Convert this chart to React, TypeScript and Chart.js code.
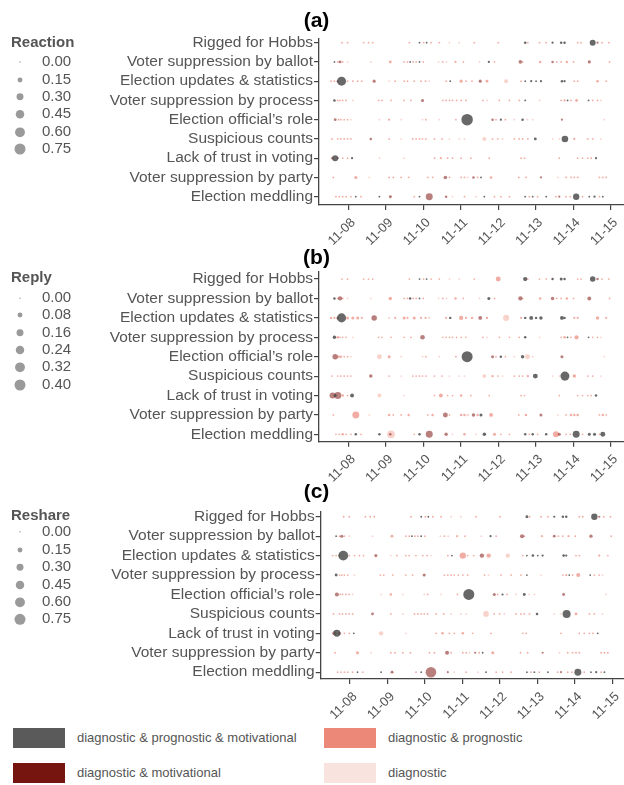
import React, { useEffect, useRef } from "react";
import { Chart, registerables } from "chart.js";
Chart.register(...registerables);

const FONT = '"Liberation Sans", Arial, Helvetica, sans-serif';
Chart.defaults.font.family = FONT;

const categories = [
  "Rigged for Hobbs",
  "Voter suppression by ballot",
  "Election updates & statistics",
  "Voter suppression by process",
  "Election official’s role",
  "Suspicious counts",
  "Lack of trust in voting",
  "Voter suppression by party",
  "Election meddling",
];
const dayTicks = [8, 9, 10, 11, 12, 13, 14, 15];
const tickLabels = ["11-08", "11-09", "11-10", "11-11", "11-12", "11-13", "11-14", "11-15"];

// type codes: g = diag&prog&motiv, r = diag&motiv, s = diag&prog, p = diag
const typeCodes = ["g", "r", "s", "p"];
const typeNames = [
  "diagnostic & prognostic & motivational",
  "diagnostic & motivational",
  "diagnostic & prognostic",
  "diagnostic",
];
const typeFills = ["rgba(78,78,78,0.85)", "rgba(125,22,18,0.55)", "rgba(232,118,102,0.6)", "rgba(245,196,186,0.75)"];
const typeSwatches = ["#5a5a5a", "#761410", "#ec8878", "#f9e3df"];

const reactionLegend = [0, 0.15, 0.3, 0.45, 0.6, 0.75];
const replyLegend = [0, 0.08, 0.16, 0.24, 0.32, 0.4];
const reshareLegend = [0, 0.15, 0.3, 0.45, 0.6, 0.75];

// Row: Rigged for Hobbs
const rigDays = [7.83, 7.98, 8.41, 8.54, 8.65, 9.63, 9.9, 10.01, 10.09, 10.21, 10.43, 10.7, 10.96, 11.36, 12.0, 12.72, 12.79, 13.1, 13.28, 13.45, 13.68, 13.77, 14.12, 14.21, 14.52, 14.65, 14.77, 14.95];
const rigTypes = "ssssssgsgssppssgsssgggssgrss";
const rigReaction = [0.02,0.02,0.02,0.02,0.02,0.02,0.02,0.02,0.02,0.02,0.02,0.02,0.02,0.02,0.02,0.04,0.02,0.02,0.02,0.03,0.04,0.04,0.02,0.02,0.22,0.03,0.02,0.02];
const rigReply = [0.01,0.01,0.01,0.01,0.01,0.01,0.01,0.01,0.01,0.01,0.01,0.01,0.01,0.01,0.08,0.06,0.01,0.01,0.01,0.02,0.03,0.02,0.01,0.01,0.1,0.02,0.01,0.01];
const rigReshare = [0.02,0.02,0.02,0.02,0.02,0.02,0.02,0.02,0.02,0.02,0.02,0.02,0.02,0.02,0.02,0.05,0.02,0.02,0.02,0.03,0.04,0.04,0.02,0.02,0.25,0.03,0.02,0.02];

// Row: Voter suppression by ballot
const balDays = [7.63, 7.72, 7.78, 7.85, 7.98, 8.6, 9.12, 9.49, 9.58, 9.65, 9.73, 9.81, 9.9, 10.0, 10.41, 10.52, 10.62, 10.86, 11.07, 11.5, 11.75, 11.9, 12.59, 12.65, 13.12, 13.45, 13.56, 13.68, 13.83, 14.01, 14.43, 14.97];
const balTypes = "gsrsppsssgssgspspsspgsrssrssssrs";
const balReaction = [0.02,0.02,0.05,0.02,0.02,0.02,0.05,0.02,0.02,0.02,0.02,0.02,0.02,0.02,0.02,0.02,0.02,0.03,0.02,0.02,0.03,0.02,0.08,0.02,0.04,0.04,0.02,0.02,0.04,0.02,0.06,0.02];
const balReply = [0.02,0.01,0.06,0.01,0.01,0.01,0.04,0.01,0.01,0.02,0.01,0.01,0.01,0.01,0.01,0.01,0.01,0.02,0.01,0.01,0.03,0.01,0.06,0.01,0.02,0.04,0.01,0.01,0.02,0.01,0.05,0.01];
const balReshare = [0.02,0.02,0.06,0.02,0.02,0.02,0.05,0.02,0.02,0.02,0.02,0.02,0.02,0.02,0.02,0.02,0.02,0.03,0.02,0.02,0.03,0.02,0.1,0.02,0.03,0.05,0.02,0.02,0.03,0.02,0.07,0.02];

// Row: Election updates & statistics
const updDays = [7.54, 7.63, 7.72, 7.82, 7.98, 8.12, 8.25, 8.36, 8.69, 9.09, 9.25, 9.49, 9.58, 9.76, 9.94, 10.06, 10.16, 10.61, 10.72, 11.01, 11.14, 11.3, 11.52, 11.7, 12.21, 12.61, 12.72, 12.88, 13.01, 13.14, 13.7, 13.77, 14.03, 14.12, 14.65, 14.88];
const updTypes = "ssrgssssrpsssssspsgsssrspsggggggssss";
const updReaction = [0.02,0.02,0.04,0.5,0.02,0.02,0.02,0.02,0.06,0.02,0.02,0.02,0.02,0.02,0.02,0.02,0.02,0.02,0.02,0.06,0.02,0.02,0.06,0.05,0.1,0.02,0.02,0.03,0.02,0.03,0.04,0.03,0.02,0.02,0.04,0.02];
const updReply = [0.02,0.015,0.03,0.27,0.03,0.03,0.03,0.015,0.1,0.015,0.015,0.03,0.015,0.03,0.015,0.015,0.015,0.015,0.02,0.06,0.015,0.02,0.05,0.02,0.12,0.015,0.02,0.05,0.02,0.04,0.05,0.02,0.015,0.015,0.04,0.015];
const updReshare = [0.02,0.02,0.03,0.6,0.02,0.02,0.02,0.02,0.06,0.02,0.02,0.02,0.02,0.02,0.02,0.02,0.02,0.02,0.02,0.25,0.02,0.02,0.12,0.12,0.12,0.02,0.02,0.04,0.02,0.03,0.04,0.03,0.02,0.02,0.03,0.02];

// Row: Voter suppression by process
const proDays = [7.63, 7.72, 7.78, 7.85, 7.94, 8.12, 8.81, 8.9, 9.14, 9.49, 9.67, 9.98, 10.52, 10.61, 10.7, 10.78, 10.89, 11.01, 11.14, 11.59, 11.7, 12.03, 12.3, 12.56, 12.72, 13.1, 13.68, 13.77, 13.85, 13.94, 14.09, 14.41, 14.52, 14.65, 14.74];
const proTypes = "gsssspsssssrsssssssspsssgpssgssgssp";
const proReaction = [0.04,0.02,0.02,0.02,0.02,0.02,0.02,0.02,0.02,0.02,0.02,0.06,0.02,0.02,0.02,0.02,0.02,0.02,0.02,0.02,0.02,0.02,0.02,0.02,0.02,0.02,0.02,0.03,0.02,0.02,0.05,0.02,0.02,0.02,0.02];
const proReply = [0.04,0.02,0.01,0.01,0.01,0.01,0.01,0.01,0.01,0.01,0.01,0.07,0.01,0.01,0.01,0.01,0.01,0.01,0.01,0.01,0.01,0.01,0.01,0.01,0.02,0.01,0.01,0.02,0.01,0.01,0.06,0.01,0.01,0.01,0.01];
const proReshare = [0.05,0.02,0.02,0.02,0.02,0.02,0.02,0.02,0.02,0.02,0.02,0.06,0.02,0.02,0.02,0.02,0.02,0.02,0.02,0.02,0.02,0.02,0.02,0.02,0.02,0.02,0.02,0.03,0.02,0.02,0.1,0.02,0.02,0.02,0.02];

// Row: Election official's role
const offDays = [7.65, 7.74, 7.8, 7.89, 7.98, 8.07, 8.83, 9.09, 9.41, 9.98, 10.07, 10.43, 10.87, 11.17, 11.85, 11.94, 12.07, 12.19, 12.43, 12.65, 12.78, 12.92, 13.7, 14.83];
const offTypes = "rssssppsppspsgrsgspgpprp";
const offReaction = [0.05,0.02,0.02,0.02,0.02,0.02,0.02,0.03,0.02,0.02,0.02,0.02,0.02,0.82,0.04,0.02,0.03,0.02,0.02,0.04,0.02,0.02,0.03,0.02];
const offReply = [0.1,0.02,0.02,0.01,0.01,0.01,0.08,0.03,0.01,0.01,0.01,0.01,0.01,0.4,0.03,0.01,0.02,0.01,0.01,0.04,0.08,0.01,0.03,0.01];
const offReshare = [0.1,0.02,0.02,0.02,0.02,0.02,0.02,0.04,0.02,0.02,0.02,0.02,0.02,0.75,0.06,0.02,0.03,0.02,0.02,0.05,0.02,0.02,0.05,0.02];

// Row: Suspicious counts
const susDays = [7.56, 7.72, 7.8, 7.89, 7.98, 8.07, 8.6, 9.09, 9.41, 9.72, 9.81, 9.9, 9.98, 10.07, 10.3, 10.5, 10.7, 10.96, 11.1, 11.63, 11.85, 11.99, 12.12, 12.43, 12.56, 12.65, 12.79, 12.99, 13.45, 13.63, 13.78, 14.03, 14.39, 14.52, 14.74];
const susTypes = "ssssssrspsssssssppppsspssssgppgsssp";
const susReaction = [0.02,0.02,0.02,0.02,0.02,0.02,0.04,0.02,0.02,0.02,0.02,0.02,0.02,0.02,0.02,0.02,0.02,0.02,0.02,0.1,0.02,0.02,0.02,0.02,0.02,0.02,0.02,0.05,0.02,0.02,0.27,0.03,0.02,0.02,0.02];
const susReply = [0.01,0.01,0.01,0.01,0.01,0.01,0.04,0.01,0.01,0.01,0.01,0.01,0.01,0.01,0.01,0.01,0.01,0.01,0.01,0.05,0.02,0.01,0.01,0.01,0.01,0.01,0.02,0.08,0.01,0.01,0.27,0.04,0.01,0.01,0.01];
const susReshare = [0.02,0.02,0.02,0.02,0.02,0.02,0.05,0.02,0.02,0.02,0.02,0.02,0.02,0.02,0.02,0.02,0.02,0.02,0.02,0.2,0.02,0.02,0.02,0.02,0.02,0.02,0.02,0.04,0.02,0.02,0.4,0.05,0.02,0.02,0.02];

// Row: Lack of trust in voting
const lacDays = [7.58, 7.65, 7.72, 7.85, 7.98, 8.1, 8.83, 9.49, 10.3, 10.47, 10.65, 10.78, 11.01, 11.27, 11.76, 12.61, 12.7, 13.63, 14.12, 14.25, 14.39, 14.48, 14.61];
const lacTypes = "rgrssgppssssssssssssssg";
const lacReaction = [0.05,0.22,0.03,0.02,0.02,0.03,0.02,0.02,0.02,0.03,0.02,0.02,0.02,0.02,0.02,0.02,0.02,0.02,0.02,0.02,0.02,0.02,0.03];
const lacReply = [0.12,0.03,0.16,0.02,0.01,0.05,0.05,0.01,0.01,0.05,0.01,0.01,0.02,0.01,0.01,0.01,0.01,0.01,0.01,0.01,0.01,0.01,0.02];
const lacReshare = [0.1,0.3,0.06,0.02,0.02,0.02,0.12,0.02,0.02,0.04,0.02,0.02,0.04,0.02,0.02,0.02,0.02,0.02,0.02,0.02,0.02,0.02,0.02];

// Row: Voter suppression by party
const parDays = [7.6, 8.2, 8.56, 9.09, 9.2, 9.41, 9.61, 10.12, 10.25, 10.59, 10.7, 11.01, 11.1, 11.19, 11.34, 11.45, 11.54, 11.81, 12.55, 12.74, 13.14, 13.59, 13.81, 13.94, 14.03, 14.12, 14.7, 14.79, 14.88];
const parTypes = "sspssssssrssspr" + "sgsssrp" + "sssssss";
const parReaction = [0.02,0.06,0.02,0.02,0.02,0.02,0.02,0.02,0.02,0.08,0.02,0.02,0.02,0.02,0.04,0.02,0.02,0.04,0.02,0.02,0.03,0.02,0.02,0.02,0.02,0.02,0.02,0.02,0.02];
const parReply = [0.01,0.16,0.01,0.02,0.01,0.01,0.02,0.01,0.02,0.08,0.01,0.02,0.02,0.02,0.04,0.02,0.03,0.05,0.01,0.02,0.03,0.01,0.01,0.02,0.02,0.02,0.01,0.02,0.01];
const parReshare = [0.02,0.06,0.02,0.02,0.02,0.02,0.02,0.02,0.02,0.1,0.02,0.02,0.02,0.02,0.03,0.02,0.02,0.06,0.02,0.02,0.03,0.02,0.02,0.02,0.02,0.02,0.02,0.02,0.02];

// Row: Election meddling
const medDays = [7.67, 7.76, 7.85, 7.94, 8.07, 8.2, 8.34, 8.83, 9.12, 9.14, 9.76, 9.9, 10.16, 10.61, 10.78, 11.1, 11.41, 11.63, 11.9, 12.07, 12.3, 12.72, 12.83, 12.92, 13.05, 13.28, 13.54, 13.63, 13.81, 13.92, 14.08, 14.25, 14.43, 14.57, 14.7, 14.79];
const medTypes = "sssssgsgrpsgrrpspgsssgsgsgsrssgsggsg";
const medReaction = [0.02,0.02,0.02,0.02,0.02,0.02,0.02,0.02,0.05,0.02,0.02,0.02,0.3,0.04,0.02,0.02,0.02,0.02,0.02,0.02,0.02,0.02,0.02,0.02,0.02,0.02,0.02,0.03,0.02,0.02,0.25,0.02,0.02,0.03,0.02,0.02];
const medReply = [0.01,0.01,0.02,0.01,0.01,0.02,0.01,0.02,0.02,0.2,0.01,0.02,0.16,0.04,0.01,0.02,0.01,0.04,0.03,0.01,0.01,0.02,0.01,0.02,0.01,0.02,0.12,0.03,0.01,0.01,0.16,0.01,0.03,0.03,0.01,0.08];
const medReshare = [0.02,0.02,0.02,0.02,0.02,0.02,0.02,0.02,0.05,0.02,0.02,0.02,0.7,0.03,0.02,0.02,0.02,0.02,0.02,0.02,0.02,0.02,0.02,0.02,0.02,0.02,0.02,0.03,0.02,0.02,0.3,0.02,0.02,0.03,0.02,0.02];

type Row = { days: number[]; types: string; a: number[]; b: number[]; c: number[] };
const rows: Row[] = [
  { days: rigDays, types: rigTypes, a: rigReaction, b: rigReply, c: rigReshare },
  { days: balDays, types: balTypes, a: balReaction, b: balReply, c: balReshare },
  { days: updDays, types: updTypes, a: updReaction, b: updReply, c: updReshare },
  { days: proDays, types: proTypes, a: proReaction, b: proReply, c: proReshare },
  { days: offDays, types: offTypes, a: offReaction, b: offReply, c: offReshare },
  { days: susDays, types: susTypes, a: susReaction, b: susReply, c: susReshare },
  { days: lacDays, types: lacTypes, a: lacReaction, b: lacReply, c: lacReshare },
  { days: parDays, types: parTypes, a: parReaction, b: parReply, c: parReshare },
  { days: medDays, types: medTypes, a: medReaction, b: medReply, c: medReshare },
];

function radiusFor(v: number, vmax: number) {
  return Math.max(0.8, 5.5 * Math.sqrt(v / vmax));
}

type PanelCfg = {
  key: "a" | "b" | "c";
  title: string;
  metric: string;
  legend: number[];
  vmax: number;
  canvasTop: number;
  height: number;
  top: number;
  bottom: number;
  left: number;
  right: number;
  xmin: number;
  xmax: number;
  ymin: number;
  ymax: number;
  titleY: number;
  legendTitleY: number;
  legendYs: number[];
};

const panels: PanelCfg[] = [
  { key: "a", title: "(a)", metric: "Reaction", legend: reactionLegend, vmax: 0.75, canvasTop: 0, height: 248, top: 39, bottom: 205, left: 319, right: 624, xmin: 7.218, xmax: 15.356, ymin: -0.43, ymax: 8.19, titleY: 21.5, legendTitleY: 42.7, legendYs: [62, 80, 96.7, 114.3, 132.3, 149] },
  { key: "b", title: "(b)", metric: "Reply", legend: replyLegend, vmax: 0.4, canvasTop: 248, height: 236, top: 271.7, bottom: 441.7, left: 319, right: 624, xmin: 7.218, xmax: 15.356, ymin: -0.38, ymax: 8.38, titleY: 258.5, legendTitleY: 278, legendYs: [298.3, 315, 332.7, 350, 367.3, 385] },
  { key: "c", title: "(c)", metric: "Reshare", legend: reshareLegend, vmax: 0.75, canvasTop: 484, height: 238, top: 511.7, bottom: 679, left: 320.7, right: 624, xmin: 7.218, xmax: 15.311, ymin: -0.35, ymax: 8.26, titleY: 492.5, legendTitleY: 516, legendYs: [531.7, 550, 567.3, 585, 602.3, 619.3] },
];

function Panel({ cfg }: { cfg: PanelCfg }) {
  const ref = useRef<HTMLCanvasElement | null>(null);
  useEffect(() => {
    const canvas = ref.current;
    if (!canvas) return;
    const datasets = typeCodes.map((code, ti) => {
      const data: { x: number; y: number; r: number }[] = [];
      rows.forEach((row, ri) => {
        row.days.forEach((d, i) => {
          if ((row.types[i] || "s") === code) {
            data.push({ x: d, y: 8 - ri, r: radiusFor(row[cfg.key][i], cfg.vmax) });
          }
        });
      });
      return {
        label: typeNames[ti],
        data,
        backgroundColor: typeFills[ti],
        borderWidth: 0,
        hoverRadius: 0,
        hoverBorderWidth: 0,
      };
    });

    const overlay = {
      id: "overlay" + cfg.key,
      afterDraw(chart: any) {
        const ctx = chart.ctx as CanvasRenderingContext2D;
        ctx.save();
        ctx.textBaseline = "middle";
        ctx.textAlign = "left";
        ctx.fillStyle = "#555";
        ctx.font = `bold 15px ${FONT}`;
        ctx.fillText(cfg.metric, 11, cfg.legendTitleY - cfg.canvasTop);
        cfg.legend.forEach((v, i) => {
          const y = cfg.legendYs[i] - cfg.canvasTop;
          ctx.beginPath();
          ctx.arc(20, y, v === 0 ? 0.7 : radiusFor(v, cfg.vmax), 0, Math.PI * 2);
          ctx.fillStyle = "#9a9a9a";
          ctx.fill();
          ctx.fillStyle = "#555";
          ctx.font = `15px ${FONT}`;
          ctx.fillText(v.toFixed(2), 42, y);
        });
        ctx.textAlign = "center";
        ctx.fillStyle = "#000";
        ctx.font = `bold 21px ${FONT}`;
        ctx.fillText(cfg.title, 316.5, cfg.titleY - cfg.canvasTop);
        ctx.restore();
      },
    };

    const chart = new Chart(canvas, {
      type: "bubble",
      data: { datasets: datasets as any },
      options: {
        animation: false,
        responsive: false,
        devicePixelRatio: 1,
        events: [],
        layout: {
          autoPadding: false,
          padding: { top: cfg.top - cfg.canvasTop, right: 624 - cfg.right, left: 0, bottom: 0 },
        },
        plugins: { legend: { display: false }, tooltip: { enabled: false } },
        scales: {
          x: {
            type: "linear",
            min: cfg.xmin,
            max: cfg.xmax,
            afterBuildTicks: (ax: any) => {
              ax.ticks = dayTicks.map((v) => ({ value: v }));
            },
            afterFit: (ax: any) => {
              ax.height = cfg.height - (cfg.bottom - cfg.canvasTop);
              ax.paddingLeft = 0;
              ax.paddingRight = 0;
            },
            ticks: {
              autoSkip: false,
              maxRotation: 45,
              minRotation: 45,
              color: "#555",
              font: { size: 13, family: FONT },
              padding: 5,
              labelOffset: 5,
              callback: (v: any) => tickLabels[dayTicks.indexOf(Number(v))],
            },
            grid: { drawOnChartArea: false, drawTicks: true, tickLength: 5, color: "#444", lineWidth: 1.2 },
            border: { display: true, color: "#444", width: 1.3 },
          },
          y: {
            type: "linear",
            min: cfg.ymin,
            max: cfg.ymax,
            afterBuildTicks: (ax: any) => {
              ax.ticks = categories.map((_, i) => ({ value: i }));
            },
            afterFit: (ax: any) => {
              ax.width = cfg.left;
              ax.paddingTop = 0;
              ax.paddingBottom = 0;
            },
            ticks: {
              autoSkip: false,
              color: "#555",
              font: { size: 15.5, family: FONT },
              padding: 1,
              callback: (v: any) => categories[8 - Number(v)],
            },
            grid: { drawOnChartArea: false, drawTicks: true, tickLength: 5, color: "#444", lineWidth: 1.2 },
            border: { display: true, color: "#444", width: 1.3 },
          },
        },
      },
      plugins: [overlay],
    });
    return () => chart.destroy();
  }, [cfg]);
  return (
    <canvas
      ref={ref}
      width={624}
      height={cfg.height}
      style={{ position: "absolute", left: 0, top: cfg.canvasTop, display: "block" }}
    />
  );
}

const legendPositions = [
  { x: 13, y: 728 },
  { x: 13, y: 763 },
  { x: 324, y: 728 },
  { x: 324, y: 763 },
];

export default function App() {
  return (
    <div style={{ position: "absolute", left: 0, top: 0, width: 624, height: 785, background: "#fff", overflow: "hidden", fontFamily: FONT }}>
      {panels.map((p) => (
        <Panel key={p.key} cfg={p} />
      ))}
      {typeNames.map((name, i) => (
        <div key={name}>
          <div
            style={{
              position: "absolute",
              left: legendPositions[i].x,
              top: legendPositions[i].y,
              width: 52,
              height: 20,
              background: typeSwatches[i],
            }}
          />
          <div
            style={{
              position: "absolute",
              left: legendPositions[i].x + 64,
              top: legendPositions[i].y,
              height: 20,
              lineHeight: "20px",
              fontSize: 13,
              color: "#555",
              whiteSpace: "nowrap",
            }}
          >
            {name}
          </div>
        </div>
      ))}
    </div>
  );
}
